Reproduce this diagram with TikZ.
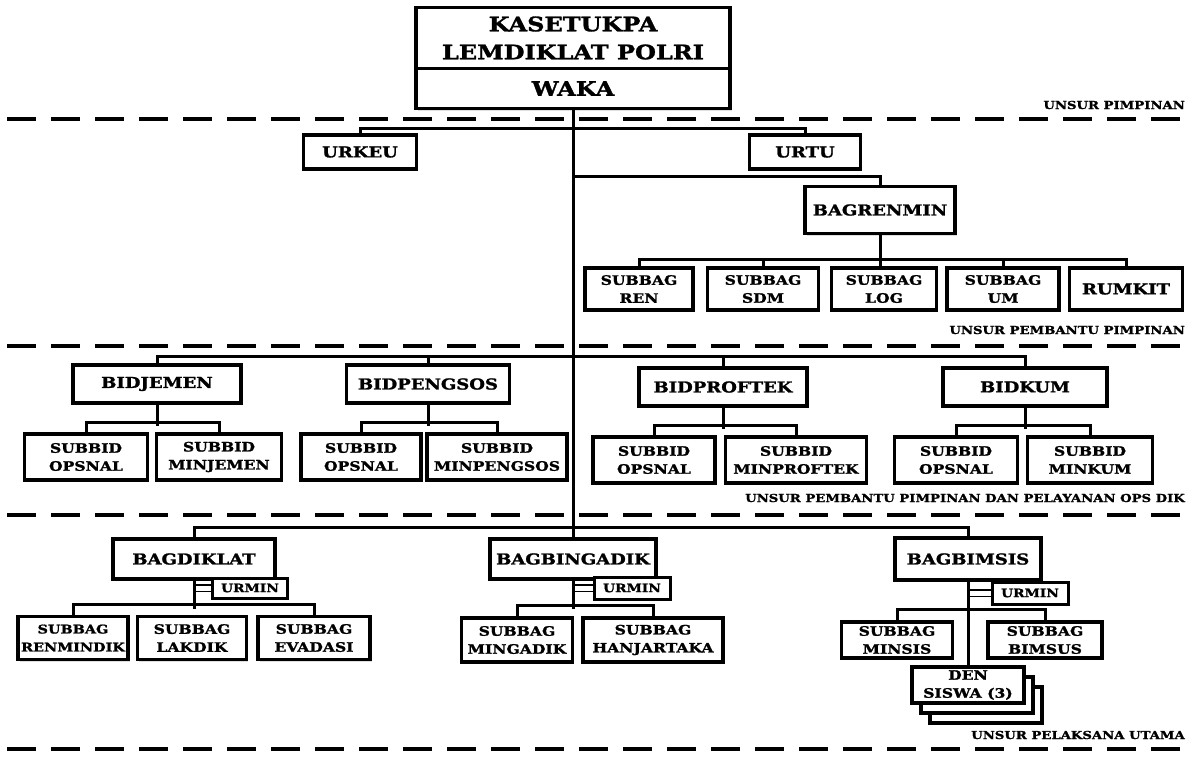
\documentclass[tikz,border=0pt]{standalone}
\usepackage{fontspec}
\setmainfont{DejaVu Serif}[FakeStretch=1.2, BoldFeatures={FakeBold=1.5}]
\usetikzlibrary{shadows}
\tikzstyle{kotak} = [rectangle, draw=black, line width=3.2pt, fill=white, align=center, inner sep=1pt, drop shadow={opacity=.25, shadow xshift=1.5pt, shadow yshift=-2pt}, font=\fontsize{15}{17}\selectfont\bfseries]
\tikzstyle{atas} = [kotak, outer sep=0pt, font=\fontsize{20}{28}\selectfont\bfseries]
\tikzstyle{subkotak} = [kotak, font=\fontsize{13}{18}\selectfont\bfseries]
\tikzstyle{urminkotak} = [kotak, line width=3pt, font=\fontsize{11.5}{12}\selectfont\bfseries]
\tikzstyle{garis} = [line width=3pt]
\tikzstyle{tangga} = [line width=1.5pt, double, double distance=5pt]
\tikzstyle{putus} = [line width=4pt, dash pattern=on 29pt off 15pt]
\tikzstyle{unsur} = [anchor=east, inner sep=0pt, font=\fontsize{11}{12}\selectfont\bfseries]

\begin{document}
\begin{tikzpicture}[x=1pt, y=-1pt]
        \useasboundingbox (0,0) rectangle (1188,756);

        \draw [putus] (7,119) -- (1188,119);
        \draw [putus] (7,346) -- (1188,346);
        \draw [putus] (7,515) -- (1188,515);
        \draw [putus] (7,749) -- (1188,749);
        \node (upimpinan) [unsur] at (1185,105) {UNSUR PIMPINAN};
        \node (upembantu) [unsur] at (1185,330) {UNSUR PEMBANTU PIMPINAN};
        \node (upelayanan) [unsur] at (1185,498) {UNSUR PEMBANTU PIMPINAN DAN PELAYANAN OPS DIK};
        \node (upelaksana) [unsur] at (1185,735) {UNSUR PELAKSANA UTAMA};

        \node (kasetukpa) [atas, minimum width=314pt, minimum height=61pt] at (573,38) {KASETUKPA\\LEMDIKLAT POLRI};
        \node (waka) [atas, minimum width=314pt, minimum height=40pt, anchor=north] at (kasetukpa.south) {WAKA};

        \coordinate (pb) at (573,128);
        \coordinate (rb) at (573,176);
        \coordinate (bb) at (573,356);
        \coordinate (lb) at (573,527);

        \node (urkeu) [kotak, minimum width=113pt, minimum height=34pt] at (360,152) {URKEU};
        \node (urtu) [kotak, minimum width=111pt, minimum height=34pt] at (805,152) {URTU};
        \node (bagrenmin) [kotak, minimum width=150pt, minimum height=47pt] at (880,210) {BAGRENMIN};
        \node (sbren) [subkotak, minimum width=108pt, minimum height=42pt] at (639,289) {SUBBAG\\REN};
        \node (sbsdm) [subkotak, minimum width=111pt, minimum height=42pt] at (763,289) {SUBBAG\\SDM};
        \node (sblog) [subkotak, minimum width=105pt, minimum height=42pt] at (884,289) {SUBBAG\\LOG};
        \node (sbum) [subkotak, minimum width=112pt, minimum height=42pt] at (1003,289) {SUBBAG\\UM};
        \node (rumkit) [kotak, minimum width=113pt, minimum height=42pt] at (1126,289) {RUMKIT};

        \node (bidjemen) [kotak, minimum width=168pt, minimum height=38pt] at (157,384) {BIDJEMEN};
        \node (bidpengsos) [kotak, minimum width=163pt, minimum height=38pt] at (428,384) {BIDPENGSOS};
        \node (bidproftek) [kotak, minimum width=168pt, minimum height=38pt] at (723,387) {BIDPROFTEK};
        \node (bidkum) [kotak, minimum width=164pt, minimum height=38pt] at (1025,387) {BIDKUM};
        \node (jopsnal) [subkotak, minimum width=123pt, minimum height=46pt] at (86,457) {SUBBID\\OPSNAL};
        \node (minjemen) [subkotak, minimum width=125pt, minimum height=46pt] at (219,457) {SUBBID\\MINJEMEN};
        \node (popsnal) [subkotak, minimum width=120pt, minimum height=46pt] at (361,457) {SUBBID\\OPSNAL};
        \node (minpengsos) [subkotak, minimum width=140pt, minimum height=46pt] at (497,457) {SUBBID\\MINPENGSOS};
        \node (fopsnal) [subkotak, minimum width=122pt, minimum height=46pt] at (654,460) {SUBBID\\OPSNAL};
        \node (minproftek) [subkotak, minimum width=141pt, minimum height=46pt] at (796,460) {SUBBID\\MINPROFTEK};
        \node (kopsnal) [subkotak, minimum width=123pt, minimum height=46pt] at (956,460) {SUBBID\\OPSNAL};
        \node (minkum) [subkotak, minimum width=125pt, minimum height=46pt] at (1090,460) {SUBBID\\MINKUM};

        \node (bagdiklat) [kotak, minimum width=162pt, minimum height=40pt] at (194,559) {BAGDIKLAT};
        \node (bagbingadik) [kotak, minimum width=166pt, minimum height=40pt] at (573,559) {BAGBINGADIK};
        \node (bagbimsis) [kotak, minimum width=146pt, minimum height=42pt] at (968,559) {BAGBIMSIS};
        \node (renmindik) [subkotak, minimum width=110pt, minimum height=43pt, font=\fontsize{12}{18}\selectfont\bfseries] at (73,638) {SUBBAG\\RENMINDIK};
        \node (lakdik) [subkotak, minimum width=109pt, minimum height=43pt] at (192,638) {SUBBAG\\LAKDIK};
        \node (evadasi) [subkotak, minimum width=112pt, minimum height=43pt] at (314,638) {SUBBAG\\EVADASI};
        \node (mingadik) [subkotak, minimum width=111pt, minimum height=44pt] at (517,640) {SUBBAG\\MINGADIK};
        \node (hanjartaka) [subkotak, minimum width=140pt, minimum height=44pt] at (653,640) {SUBBAG\\HANJARTAKA};
        \node (minsis) [subkotak, minimum width=111pt, minimum height=36pt] at (897,640) {SUBBAG\\MINSIS};
        \node (bimsus) [subkotak, minimum width=114pt, minimum height=36pt] at (1045,640) {SUBBAG\\BIMSUS};
        \node (densiswa) [subkotak, minimum width=112pt, minimum height=36pt, double copy shadow={shadow xshift=9pt, shadow yshift=-10pt}] at (968,685) {DEN\\SISWA (3)};

        \draw [tangga] (bagdiklat.south |- 0,588) -- (212,588);
        \draw [tangga] (bagbingadik.south |- 0,588) -- (594,588);
        \draw [tangga] (bagbimsis.south |- 0,593) -- (992,593);
        \node (urmin1) [urminkotak, minimum width=75pt, minimum height=20pt] at (250,588) {URMIN};
        \node (urmin2) [urminkotak, minimum width=76pt, minimum height=22pt] at (632,588) {URMIN};
        \node (urmin3) [urminkotak, minimum width=76pt, minimum height=22pt] at (1030,593) {URMIN};

        \draw [garis] (waka.south) -- (bagbingadik.north);
        \draw [garis] (urkeu.north) |- (pb) -| (urtu.north);
        \draw [garis] (rb) -| (bagrenmin.north);
        \draw [garis] (bagrenmin.south) -- (bagrenmin.south |- sblog.north);
        \draw [garis] (sbren.north) -- ++(0,-7) -| (rumkit.north);
        \draw [garis] (sbsdm.north) -- ++(0,-7);
        \draw [garis] (sbum.north) -- ++(0,-7);

        \draw [garis] (bidjemen.north) |- (bb) -| (bidkum.north);
        \draw [garis] (bidpengsos.north) |- (bb);
        \draw [garis] (bidproftek.north) |- (bb);
        \draw [garis] (bidjemen.south) -- ++(0,21);
        \draw [garis] (jopsnal.north) -- ++(0,-10) -| (minjemen.north);
        \draw [garis] (bidpengsos.south) -- ++(0,21);
        \draw [garis] (popsnal.north) -- ++(0,-10) -| (minpengsos.north);
        \draw [garis] (bidproftek.south) -- ++(0,21);
        \draw [garis] (fopsnal.north) -- ++(0,-10) -| (minproftek.north);
        \draw [garis] (bidkum.south) -- ++(0,21);
        \draw [garis] (kopsnal.north) -- ++(0,-10) -| (minkum.north);

        \draw [garis] (bagdiklat.north) |- (lb) -| (bagbimsis.north);
        \draw [garis] (bagdiklat.south) -- ++(0,28);
        \draw [garis] (renmindik.north) -- ++(0,-10) -| (evadasi.north);
        \draw [garis] (bagbingadik.south) -- ++(0,28);
        \draw [garis] (mingadik.north) -- ++(0,-11) -| (hanjartaka.north);
        \draw [garis] (bagbimsis.south) -- (densiswa.north);
        \draw [garis] (minsis.north) -- ++(0,-11) -| (bimsus.north);
    \end{tikzpicture}
\end{document}
